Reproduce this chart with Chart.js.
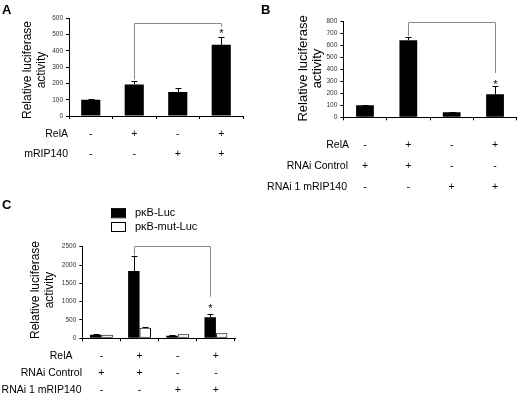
<!DOCTYPE html>
<html><head><meta charset="utf-8">
<script src="https://cdn.jsdelivr.net/npm/chart.js@4"></script>
<style>
html,body{margin:0;padding:0;background:#fff}
body{width:520px;height:393px;overflow:hidden;position:relative}
canvas{position:absolute;display:block}
</style></head><body>
<canvas id="cA" width="260" height="195" style="left:0;top:0"></canvas>
<canvas id="cB" width="260" height="195" style="left:260px;top:0"></canvas>
<canvas id="cC" width="260" height="198" style="left:0;top:195px"></canvas>
<script>
const family = '"Liberation Sans", Arial, Helvetica, sans-serif';

// ---------- data ----------
const categories = ['1', '2', '3', '4'];

// Panel A
const yTicksA = [0, 100, 200, 300, 400, 500, 600];
const valuesA = [100, 194, 147, 437];
const errA = [3, 21, 23, 50];
const rowLabelsA = ['RelA', 'mRIP140'];
const signsA = [['-', '+', '-', '+'], ['-', '-', '+', '+']];
const bracketA = { from: 1, to: 3, level: 570, leftEnd: 225, rightEnd: 548, star: 525 };

// Panel B
const yTicksB = [0, 100, 200, 300, 400, 500, 600, 700, 800];
const valuesB = [100, 640, 41, 191];
const errB = [4, 25, 3, 66];
const rowLabelsB = ['RelA', 'RNAi Control', 'RNAi 1 mRIP140'];
const signsB = [['-', '+', '-', '+'], ['+', '+', '-', '-'], ['-', '-', '+', '+']];
const bracketB = { from: 1, to: 3, level: 795, leftEnd: 675, rightEnd: 368, star: 300 };

// Panel C
const yTicksC = [0, 500, 1000, 1500, 2000, 2500];
const seriesNamesC = ['p\u03BAB-Luc', 'p\u03BAB-mut-Luc'];
const valuesC1 = [100, 1835, 72, 572];
const errC1 = [6, 405, 5, 90];
const valuesC2 = [100, 290, 110, 137];
const errC2 = [0, 20, 0, 0];
const rowLabelsC = ['RelA', 'RNAi Control', 'RNAi 1 mRIP140'];
const signsC = [['-', '+', '-', '+'], ['+', '+', '-', '-'], ['-', '-', '+', '+']];
const bracketC = { from: 1, to: 3, level: 2515, leftEnd: 2260, rightEnd: 1135, star: 900 };

// ---------- drawing ----------
function panel(o) {
  const cv = document.getElementById(o.id);
  const W = cv.width, H = cv.height, a = o.area;
  const ticks = o.yTicks;
  const datasets = o.series.map(s => ({
    label: s.label, data: s.values, err: s.err,
    backgroundColor: s.fill, borderColor: '#000',
    borderWidth: s.fill === '#ffffff' ? 1 : 0, borderSkipped: false,
    barPercentage: o.barPct, categoryPercentage: o.catPct
  }));
  const deco = {
    id: 'deco',
    afterDatasetsDraw(chart) {
      const ctx = chart.ctx, xs = chart.scales.x, ys = chart.scales.y;
      ctx.save();
      ctx.lineWidth = 1; ctx.strokeStyle = '#000';
      chart.data.datasets.forEach((d, di) => {
        const meta = chart.getDatasetMeta(di);
        d.err.forEach((e, i) => {
          if (!e) return;
          const b = meta.data[i];
          const x = Math.round(b.x) + 0.5;
          const yt = Math.round(ys.getPixelForValue(d.data[i] + e)) + 0.5;
          ctx.beginPath();
          ctx.moveTo(x, b.y); ctx.lineTo(x, yt);
          ctx.moveTo(x - 3, yt); ctx.lineTo(x + 3, yt);
          ctx.stroke();
        });
      });
      // significance bracket
      const br = o.bracket, m0 = chart.getDatasetMeta(0);
      const x1 = Math.round(m0.data[br.from].x) + 0.5, x2 = Math.round(m0.data[br.to].x) + 0.5;
      const yT = Math.round(ys.getPixelForValue(br.level)) + 0.5;
      ctx.strokeStyle = '#8a8a8a';
      ctx.beginPath();
      ctx.moveTo(x1, ys.getPixelForValue(br.leftEnd)); ctx.lineTo(x1, yT);
      ctx.lineTo(x2, yT); ctx.lineTo(x2, ys.getPixelForValue(br.rightEnd));
      ctx.stroke();
      ctx.fillStyle = '#000'; ctx.font = '11px ' + family;
      ctx.textAlign = 'center'; ctx.textBaseline = 'alphabetic';
      ctx.fillText('*', x2, ys.getPixelForValue(br.star) + 6.5);
      ctx.restore();
    },
    afterDraw(chart) {
      const ctx = chart.ctx, xs = chart.scales.x;
      ctx.save();
      ctx.fillStyle = '#000';
      // panel letter
      ctx.font = 'bold 13px ' + family; ctx.textAlign = 'left'; ctx.textBaseline = 'alphabetic';
      ctx.fillText(o.letter, o.letterPos[0], o.letterPos[1]);
      // y title (two lines, rotated)
      ctx.font = o.titleSize + 'px ' + family; ctx.textAlign = 'center'; ctx.textBaseline = 'middle';
      o.title.forEach((t, k) => {
        ctx.save(); ctx.translate(o.titleX[k], o.titleY); ctx.rotate(-Math.PI / 2);
        ctx.fillText(t, 0, 0); ctx.restore();
      });
      // treatment table
      ctx.font = '10.5px ' + family; ctx.textBaseline = 'alphabetic';
      o.rowLabels.forEach((lab, r) => {
        ctx.textAlign = 'right';
        ctx.fillText(lab, o.rowRight[r], o.rowBase[r]);
        ctx.textAlign = 'center';
        o.signs[r].forEach((s, i) => ctx.fillText(s, xs.getPixelForValue(i), o.rowBase[r]));
      });
      // legend
      if (o.legend) {
        const L = o.legend;
        ctx.font = '11px ' + family;
        chart.data.datasets.forEach((d, k) => {
          const y = L.y + k * L.dy;
          ctx.fillStyle = d.backgroundColor;
          ctx.fillRect(L.x, y, 15, 9);
          ctx.strokeStyle = '#000'; ctx.lineWidth = 1;
          ctx.strokeRect(L.x + 0.5, y + 0.5, 14, 9);
          ctx.fillStyle = '#000'; ctx.textAlign = 'left'; ctx.textBaseline = 'middle';
          ctx.fillText(d.label, L.x + 24, y + 5);
        });
      }
      ctx.restore();
    }
  };
  return new Chart(cv, {
    type: 'bar',
    data: { labels: categories, datasets },
    options: {
      responsive: false, animation: false, devicePixelRatio: 1,
      layout: { padding: { top: a.top, right: W - a.right, left: 0, bottom: 0 } },
      plugins: { legend: { display: false }, tooltip: { enabled: false } },
      scales: {
        x: {
          offset: true,
          grid: { display: true, drawOnChartArea: false, color: '#000', tickLength: 3, offset: true },
          border: { color: '#000', width: 1 },
          ticks: { display: false },
          afterFit: s => { s.height = H - a.bottom; }
        },
        y: {
          min: ticks[0], max: ticks[ticks.length - 1],
          ticks: { stepSize: ticks[1] - ticks[0], font: { size: 6.5, family }, color: '#333', padding: 3,
                   callback: v => String(v) },
          grid: { drawOnChartArea: false, color: '#000', tickLength: 3 },
          border: { color: '#000', width: 1 },
          afterFit: s => { s.width = a.left; }
        }
      }
    },
    plugins: [deco]
  });
}

panel({
  id: 'cA', letter: 'A', letterPos: [2, 13.5],
  area: { left: 69, right: 243, top: 18.3, bottom: 116 },
  yTicks: yTicksA,
  series: [{ label: 'A', values: valuesA, err: errA, fill: '#000000' }],
  barPct: 0.44, catPct: 1,
  bracket: bracketA,
  title: ['Relative luciferase', 'activity'], titleX: [27.5, 41.3], titleY: 70, titleSize: 12,
  rowLabels: rowLabelsA, signs: signsA, rowRight: [68, 68], rowBase: [137, 157]
});

panel({
  id: 'cB', letter: 'B', letterPos: [1, 13.5],
  area: { left: 83.3, right: 256.7, top: 21, bottom: 117.3 },
  yTicks: yTicksB,
  series: [{ label: 'B', values: valuesB, err: errB, fill: '#000000' }],
  barPct: 0.41, catPct: 1,
  bracket: bracketB,
  title: ['Relative luciferase', 'activity'], titleX: [43.3, 57.7], titleY: 68.5, titleSize: 13,
  rowLabels: rowLabelsB, signs: signsB, rowRight: [89, 88, 87], rowBase: [148, 169, 190]
});

panel({
  id: 'cC', letter: 'C', letterPos: [2, 13.5],
  area: { left: 82.3, right: 235, top: 51.7, bottom: 143.3 },
  yTicks: yTicksC,
  series: [
    { label: seriesNamesC[0], values: valuesC1, err: errC1, fill: '#000000' },
    { label: seriesNamesC[1], values: valuesC2, err: errC2, fill: '#ffffff' }
  ],
  barPct: 1, catPct: 0.6,
  bracket: bracketC,
  title: ['Relative luciferase', 'activity'], titleX: [36, 50], titleY: 95, titleSize: 12,
  rowLabels: rowLabelsC, signs: signsC, rowRight: [72.5, 82, 81.5], rowBase: [163.5, 181, 198],
  legend: { x: 111, y: 13.3, dy: 13.7 }
});
</script>
</body></html>
